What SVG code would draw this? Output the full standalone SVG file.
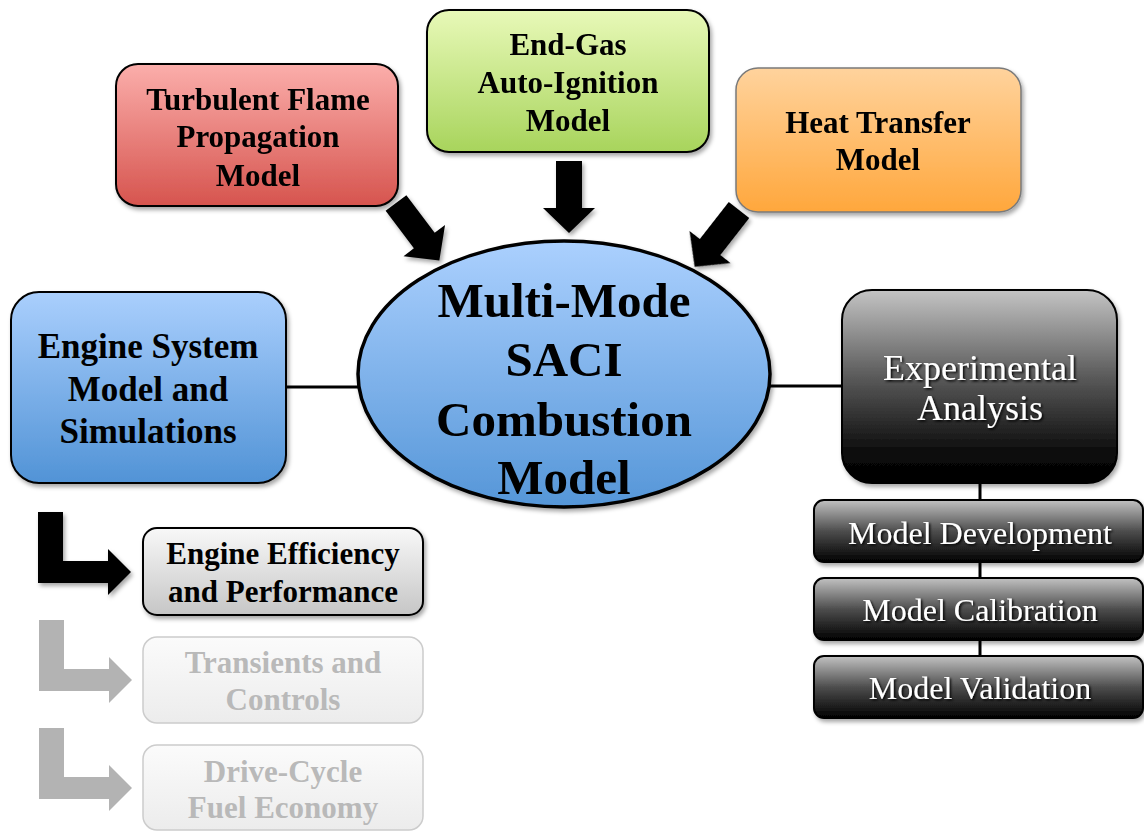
<svg xmlns="http://www.w3.org/2000/svg" width="1144" height="832" viewBox="0 0 1144 832">
  <defs>
    <linearGradient id="gRed" x1="0" y1="0" x2="0" y2="1">
      <stop offset="0" stop-color="#fbaeab"/>
      <stop offset="1" stop-color="#d6544e"/>
    </linearGradient>
    <linearGradient id="gGreen" x1="0" y1="0" x2="0" y2="1">
      <stop offset="0" stop-color="#e8f9b8"/>
      <stop offset="1" stop-color="#a8d45c"/>
    </linearGradient>
    <linearGradient id="gOrange" x1="0" y1="0" x2="0" y2="1">
      <stop offset="0" stop-color="#ffd39d"/>
      <stop offset="1" stop-color="#ffa73c"/>
    </linearGradient>
    <linearGradient id="gBlue" x1="0" y1="0" x2="0" y2="1">
      <stop offset="0" stop-color="#aacffd"/>
      <stop offset="1" stop-color="#5193d6"/>
    </linearGradient>
    <linearGradient id="gEllipse" x1="0" y1="0" x2="0" y2="1">
      <stop offset="0" stop-color="#abd0fe"/>
      <stop offset="1" stop-color="#5596d8"/>
    </linearGradient>
    <linearGradient id="gDark" x1="0" y1="0" x2="0" y2="1">
      <stop offset="0" stop-color="#c4c4c4"/>
      <stop offset="0.45" stop-color="#5a5a5a"/>
      <stop offset="0.85" stop-color="#0a0a0a"/>
      <stop offset="1" stop-color="#000000"/>
    </linearGradient>
    <linearGradient id="gDarkBar" x1="0" y1="0" x2="0" y2="1">
      <stop offset="0" stop-color="#c2c2c2"/>
      <stop offset="0.5" stop-color="#4e4e4e"/>
      <stop offset="1" stop-color="#000000"/>
    </linearGradient>
    <linearGradient id="gSilver" x1="0" y1="0" x2="0" y2="1">
      <stop offset="0" stop-color="#f8f8f8"/>
      <stop offset="1" stop-color="#c6c6c6"/>
    </linearGradient>
    <linearGradient id="gFaint" x1="0" y1="0" x2="0" y2="1">
      <stop offset="0" stop-color="#fbfbfb"/>
      <stop offset="1" stop-color="#ececec"/>
    </linearGradient>
    <filter id="shadow" x="-10%" y="-10%" width="125%" height="130%">
      <feDropShadow dx="2" dy="3" stdDeviation="2" flood-color="#000" flood-opacity="0.35"/>
    </filter>
    <filter id="textShadow" x="-5%" y="-20%" width="115%" height="150%">
      <feDropShadow dx="1.5" dy="1.5" stdDeviation="1" flood-color="#000" flood-opacity="0.95"/>
    </filter>
    <!-- block arrow pointing along +x, origin at tail centre -->
    <path id="blockArrow" d="M0,-13 L47,-13 L47,-26 L72,0 L47,26 L47,13 L0,13 Z"/>
    <!-- bent arrow: down then right -->
    <path id="bentArrow" d="M38,512 L63,512 L63,561 L108,561 L108,549 L131,572 L108,595 L108,583 L38,583 Z"/>
  </defs>
  <style>
    text { font-family: "Liberation Serif", "Times New Roman", serif; text-anchor: middle; }
    .bold { font-weight: bold; fill: #000; }
    .t31 { font-size: 31px; }
    .t35 { font-size: 35px; }
    .t49 { font-size: 49px; }
    .white { fill: #fff; font-weight: normal; }
    .faint { fill: #b9b9b9; font-weight: bold; }
    .box { stroke: #000; stroke-width: 2; }
    .conn { stroke: #000; stroke-width: 3; fill: none; }
  </style>

  <rect width="1144" height="832" fill="#fff"/>

  <!-- connectors -->
  <g id="connectors">
    <line class="conn" x1="286" y1="387" x2="359" y2="387"/>
    <line class="conn" x1="769" y1="386" x2="842" y2="386"/>
    <line class="conn" x1="980" y1="483" x2="980" y2="500"/>
    <line class="conn" x1="980" y1="562" x2="980" y2="578"/>
    <line class="conn" x1="980" y1="640" x2="980" y2="656"/>
    <g fill="#000" filter="url(#shadow)">
      <use href="#blockArrow" transform="translate(396,203) rotate(53)"/>
      <use href="#blockArrow" transform="translate(569,161) rotate(90)"/>
      <use href="#blockArrow" transform="translate(739,210) rotate(128)"/>
    </g>
    <use href="#bentArrow" fill="#000" filter="url(#shadow)"/>
    <use href="#bentArrow" fill="#b3b3b3" transform="translate(1,108)"/>
    <use href="#bentArrow" fill="#b3b3b3" transform="translate(1,216)"/>
  </g>

  <!-- combustion model (centre) -->
  <g id="saci">
    <ellipse cx="564" cy="374" rx="206" ry="133" fill="url(#gEllipse)" stroke="#000" stroke-width="3.5" filter="url(#shadow)"/>
    <text class="bold t49" x="564" y="317">Multi-Mode</text>
    <text class="bold t49" x="564" y="376">SACI</text>
    <text class="bold t49" x="564" y="436">Combustion</text>
    <text class="bold t49" x="564" y="494">Model</text>
  </g>

  <g id="flame">
    <rect class="box" x="116" y="64" width="282" height="142" rx="22" fill="url(#gRed)" filter="url(#shadow)"/>
    <text class="bold t31" x="258" y="110">Turbulent Flame</text>
    <text class="bold t31" x="258" y="147">Propagation</text>
    <text class="bold t31" x="258" y="186">Model</text>
  </g>

  <g id="autoignition">
    <rect class="box" x="427" y="10" width="282" height="142" rx="22" fill="url(#gGreen)" filter="url(#shadow)"/>
    <text class="bold t31" x="568" y="55">End-Gas</text>
    <text class="bold t31" x="568" y="93">Auto-Ignition</text>
    <text class="bold t31" x="568" y="131">Model</text>
  </g>

  <g id="heat">
    <rect x="736" y="68" width="285" height="144" rx="22" fill="url(#gOrange)" stroke="#7a7a7a" stroke-width="1.5" filter="url(#shadow)"/>
    <text class="bold t31" x="878" y="133">Heat Transfer</text>
    <text class="bold t31" x="878" y="170">Model</text>
  </g>

  <g id="system">
    <rect class="box" x="11" y="292" width="275" height="191" rx="28" fill="url(#gBlue)" filter="url(#shadow)"/>
    <text class="bold t35" x="148" y="358">Engine System</text>
    <text class="bold t35" x="148" y="401">Model and</text>
    <text class="bold t35" x="148" y="443">Simulations</text>
  </g>

  <g id="experimental">
    <rect class="box" x="842" y="290" width="275" height="193" rx="30" fill="url(#gDark)" filter="url(#shadow)"/>
    <g filter="url(#textShadow)">
      <text class="white" font-size="36" x="980" y="380">Experimental</text>
      <text class="white" font-size="36" x="980" y="420">Analysis</text>
    </g>
  </g>

  <g id="development">
    <rect class="box" x="814" y="500" width="329" height="62" rx="10" fill="url(#gDarkBar)" filter="url(#shadow)"/>
    <text class="white" font-size="32" x="980" y="544" filter="url(#textShadow)">Model Development</text>
  </g>

  <g id="calibration">
    <rect class="box" x="814" y="578" width="329" height="62" rx="10" fill="url(#gDarkBar)" filter="url(#shadow)"/>
    <text class="white" font-size="32" x="980" y="621" filter="url(#textShadow)">Model Calibration</text>
  </g>

  <g id="validation">
    <rect class="box" x="814" y="656" width="329" height="62" rx="10" fill="url(#gDarkBar)" filter="url(#shadow)"/>
    <text class="white" font-size="32" x="980" y="699" filter="url(#textShadow)">Model Validation</text>
  </g>

  <g id="efficiency">
    <rect class="box" x="143" y="528" width="280" height="87" rx="14" fill="url(#gSilver)" filter="url(#shadow)"/>
    <text class="bold t31" x="283" y="564">Engine Efficiency</text>
    <text class="bold t31" x="283" y="602">and Performance</text>
  </g>

  <g id="transients">
    <rect x="143" y="637" width="280" height="86" rx="14" fill="url(#gFaint)" stroke="#cccccc" stroke-width="1.5"/>
    <text class="faint t31" x="283" y="673">Transients and</text>
    <text class="faint t31" x="283" y="710">Controls</text>
  </g>

  <g id="drivecycle">
    <rect x="143" y="745" width="280" height="85" rx="14" fill="url(#gFaint)" stroke="#cccccc" stroke-width="1.5"/>
    <text class="faint t31" x="283" y="782">Drive-Cycle</text>
    <text class="faint t31" x="283" y="818">Fuel Economy</text>
  </g>
</svg>
